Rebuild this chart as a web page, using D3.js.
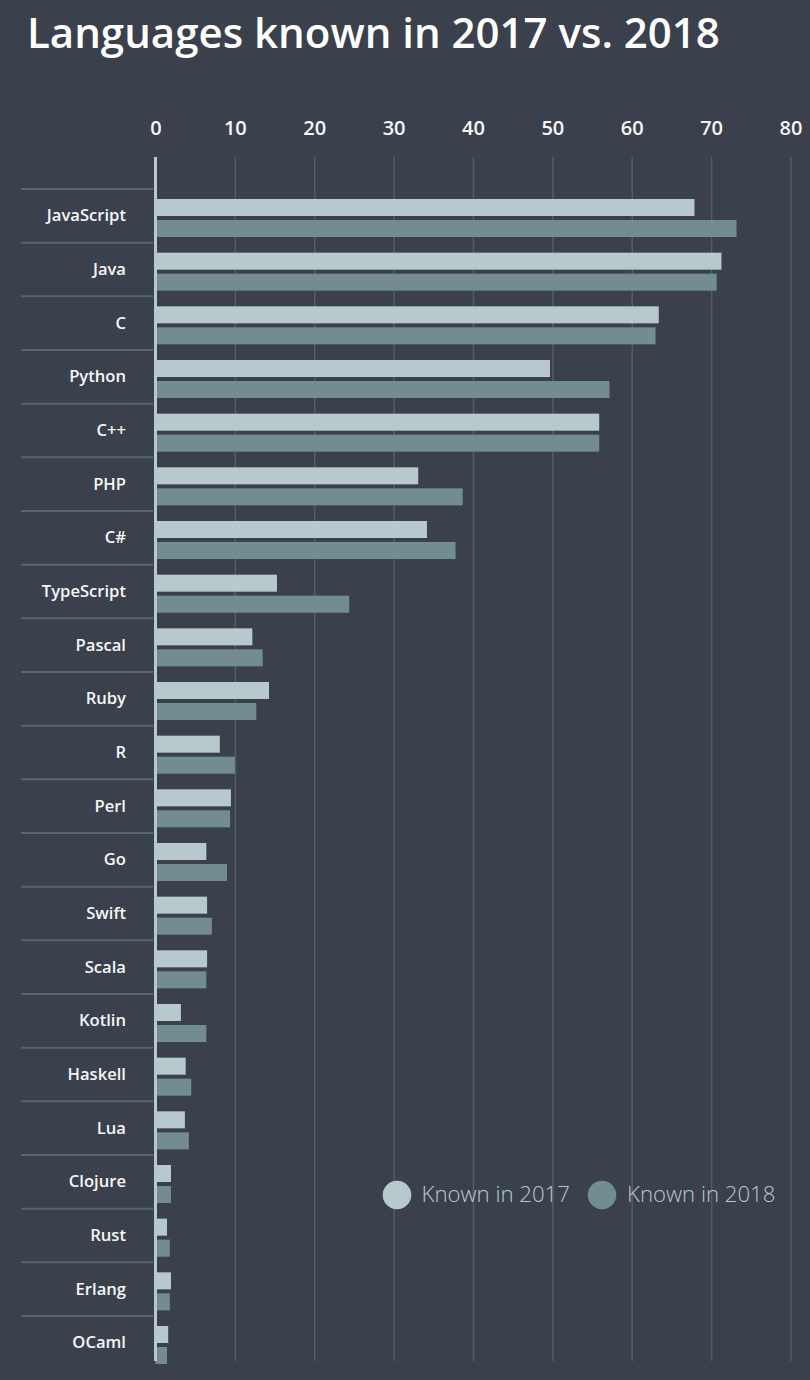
<!DOCTYPE html>
<html>
<head>
<meta charset="utf-8">
<script src="https://cdn.jsdelivr.net/npm/d3@7"></script>
<style>
  html, body { margin: 0; padding: 0; background: #3a414c; }
  svg { display: block; font-family: "Open Sans", sans-serif; }
</style>
</head>
<body>
<svg id="chart" width="810" height="1380"></svg>
<script>
const title = "Languages known in 2017 vs. 2018";
const languages = ["JavaScript","Java","C","Python","C++","PHP","C#","TypeScript","Pascal","Ruby","R","Perl","Go","Swift","Scala","Kotlin","Haskell","Lua","Clojure","Rust","Erlang","OCaml"];
const known2017 = [67.9,71.3,63.4,49.7,55.9,33.1,34.2,15.3,12.2,14.3,8.1,9.5,6.4,6.5,6.5,3.2,3.8,3.7,1.95,1.45,1.95,1.6];
const known2018 = [73.2,70.7,63.0,57.2,55.9,38.7,37.8,24.4,13.5,12.7,10.0,9.4,9.0,7.1,6.4,6.4,4.5,4.2,1.95,1.8,1.8,1.45];
const seriesNames = ["Known in 2017","Known in 2018"];
const seriesKeys = ["2017","2018"];
const tickValues = [0,10,20,30,40,50,60,70,80];

const colors = { "2017": "#b8c9cd", "2018": "#728c90" };
const bg = "#3a414c";

const svg = d3.select("#chart");
svg.append("rect").attr("width", 810).attr("height", 1380).attr("fill", bg);

const plotTop = 157, plotBottom = 1361;
const x = d3.scaleLinear().domain([0, 80]).range([155.5, 790.5]);
const rowStep = (1316 - 189) / 21;
const y = d3.scaleBand().domain(languages).range([189, 189 + rowStep * languages.length]).padding(0);
const ySub = d3.scaleBand().domain(seriesKeys).range([10, 48]).paddingInner(4 / 21).paddingOuter(0);

// title
svg.append("text")
  .attr("x", 27).attr("y", 48)
  .attr("fill", "#ffffff")
  .attr("font-size", 42)
  .attr("font-weight", 600)
  .text(title);

// axis with gridlines
const axis = d3.axisTop(x)
  .tickValues(tickValues)
  .tickSizeInner(-(plotBottom - plotTop))
  .tickSizeOuter(0)
  .tickPadding(22)
  .tickFormat(d3.format("d"));

const gAxis = svg.append("g").attr("transform", `translate(0,${plotTop})`).call(axis);
gAxis.select(".domain").remove();
gAxis.selectAll(".tick line")
  .attr("stroke", "#525d67")
  .attr("stroke-width", 1.5);
gAxis.selectAll(".tick text")
  .attr("fill", "#f4f6f7")
  .attr("font-size", 20)
  .attr("font-weight", 600)
  .attr("font-family", "'Open Sans', sans-serif");

// row separators
svg.append("g").selectAll("line")
  .data(languages)
  .join("line")
  .attr("x1", 21).attr("x2", 153)
  .attr("y1", d => y(d)).attr("y2", d => y(d))
  .attr("stroke", "#56666f")
  .attr("stroke-width", 2);

// category labels
svg.append("g").selectAll("text")
  .data(languages)
  .join("text")
  .attr("x", 126)
  .attr("y", d => y(d) + y.bandwidth() / 2)
  .attr("dy", "0.33em")
  .attr("text-anchor", "end")
  .attr("fill", "#f4f6f7")
  .attr("font-size", 16.6)
  .attr("font-weight", 600)
  .text(d => d);

// bars
const rows = languages.map((lang, i) => ({ lang, values: [
  { key: "2017", value: known2017[i] },
  { key: "2018", value: known2018[i] }
]}));

const gRows = svg.append("g").selectAll("g")
  .data(rows)
  .join("g")
  .attr("transform", d => `translate(0,${y(d.lang)})`);

gRows.selectAll("rect")
  .data(d => d.values)
  .join("rect")
  .attr("x", x(0))
  .attr("y", d => ySub(d.key))
  .attr("width", d => x(d.value) - x(0))
  .attr("height", ySub.bandwidth())
  .attr("fill", d => colors[d.key]);

// zero axis line
svg.append("line")
  .attr("x1", x(0)).attr("x2", x(0))
  .attr("y1", plotTop).attr("y2", plotBottom)
  .attr("stroke", "#b8c9cd")
  .attr("stroke-width", 3);

// legend
const legendItems = [
  { key: "2017", name: seriesNames[0], cx: 397, tx: 421.5 },
  { key: "2018", name: seriesNames[1], cx: 602, tx: 627 }
];
const gLeg = svg.append("g");
gLeg.selectAll("circle")
  .data(legendItems)
  .join("circle")
  .attr("cx", d => d.cx).attr("cy", 1195)
  .attr("r", 14.3)
  .attr("fill", d => colors[d.key]);
gLeg.selectAll("text")
  .data(legendItems)
  .join("text")
  .attr("x", d => d.tx).attr("y", 1202)
  .attr("fill", "#b8c9cd")
  .attr("font-size", 22.2)
  .attr("font-weight", 300)
  .text(d => d.name);
</script>
</body>
</html>
